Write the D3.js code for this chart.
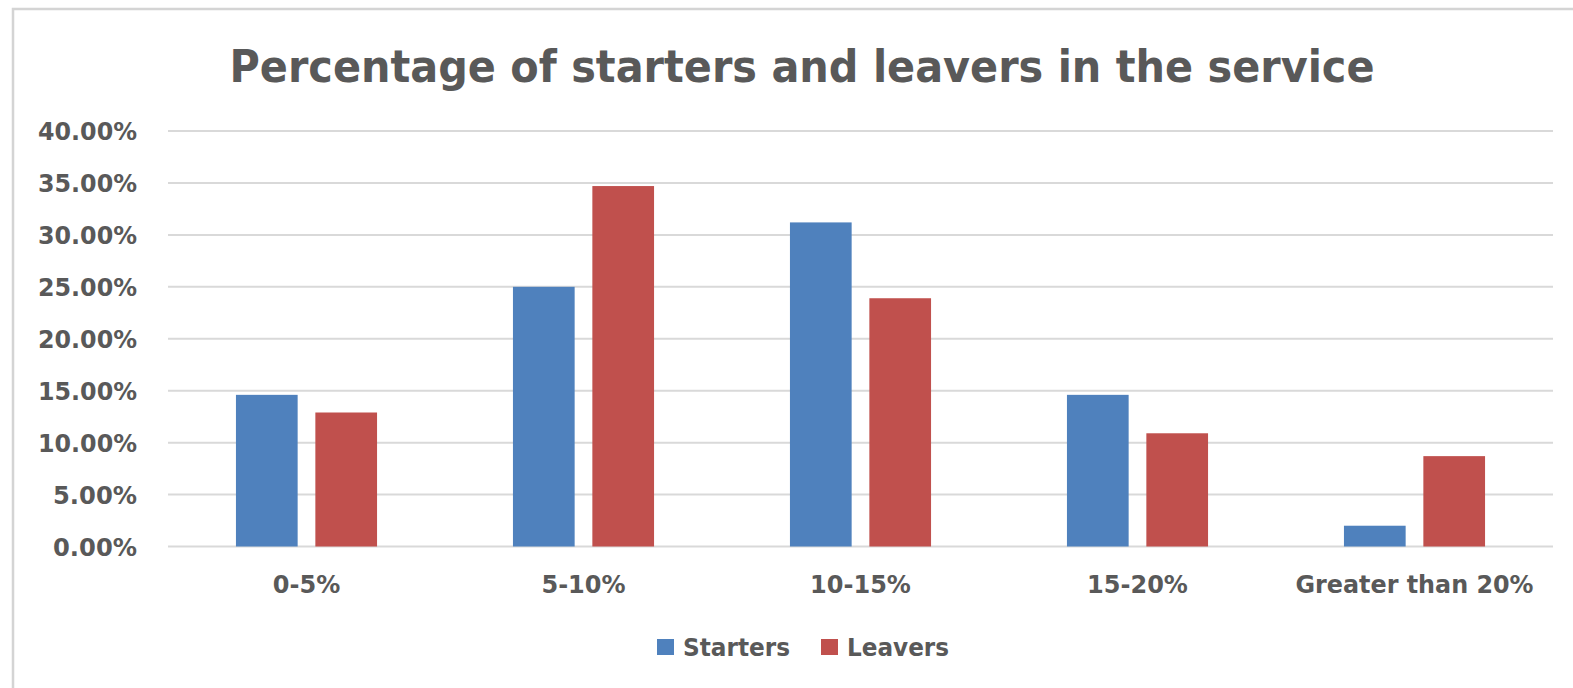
<!DOCTYPE html>
<html><head><meta charset="utf-8">
<script src="https://cdn.jsdelivr.net/npm/d3@7"></script>
<style>html,body{margin:0;padding:0;background:#fff;overflow:hidden}</style>
</head><body><svg id="c" width="1573" height="688"></svg>
<script>
const categories = ["0-5%", "5-10%", "10-15%", "15-20%", "Greater than 20%"];
const seriesNames = ["Starters", "Leavers"];
const starters = [14.6, 25.0, 31.2, 14.6, 2.0];
const leavers = [12.9, 34.7, 23.9, 10.9, 8.7];
const yTicks = [0, 5, 10, 15, 20, 25, 30, 35, 40];
const colors = ["#4F81BD", "#C0504D"];
const title = "Percentage of starters and leavers in the service";

const svg = d3.select("#c");
const font = "'DejaVu Sans', Verdana, sans-serif";
const textCol = "#595959";

// frame
svg.append("rect").attr("x", 13).attr("y", 9).attr("width", 1600).attr("height", 700)
  .attr("fill", "#fff").attr("stroke", "#d4d4d4").attr("stroke-width", 2.5);

const x0 = d3.scaleBand().domain(categories).range([168, 1553]).paddingInner(0).paddingOuter(0);
const y = d3.scaleLinear().domain([0, 40]).range([546.5, 131]);
const barW = 61.7, gap = 17.7;

// gridlines
svg.append("g").selectAll("line").data(yTicks).join("line")
  .attr("x1", 168).attr("x2", 1553)
  .attr("y1", d => y(d)).attr("y2", d => y(d))
  .attr("stroke", "#d9d9d9").attr("stroke-width", 2);

// y axis labels
const yAxis = d3.axisLeft(y).tickValues(yTicks).tickFormat(d => d.toFixed(2) + "%").tickSize(0).tickPadding(0);
const ya = svg.append("g").attr("transform", "translate(137,0)").call(yAxis);
ya.select(".domain").remove();
ya.selectAll("text").attr("font-family", font).attr("font-weight", "bold")
  .attr("font-size", 24).attr("fill", textCol).attr("dy", "0.36em")
  .attr("textLength", 99).attr("lengthAdjust", "spacingAndGlyphs");
ya.selectAll("text").filter(d => d < 10).attr("textLength", 84);

// bars
const data = categories.map((c, i) => ({ c, vals: [starters[i], leavers[i]] }));
const groups = svg.append("g").selectAll("g").data(data).join("g")
  .attr("transform", d => `translate(${x0(d.c) + x0.bandwidth() / 2},0)`);
groups.selectAll("rect").data(d => d.vals.map((v, k) => ({ v, k }))).join("rect")
  .attr("x", d => d.k === 0 ? -(gap / 2 + barW) : gap / 2)
  .attr("width", barW)
  .attr("y", d => y(d.v))
  .attr("height", d => y(0) - y(d.v))
  .attr("fill", d => colors[d.k]);

// x axis labels
const xAxis = d3.axisBottom(x0).tickSize(0).tickPadding(0);
const xa = svg.append("g").attr("transform", "translate(0,584)").call(xAxis);
xa.select(".domain").remove();
xa.selectAll("text").attr("font-family", font).attr("font-weight", "bold")
  .attr("font-size", 24).attr("fill", textCol).attr("dy", "0.36em");
xa.selectAll("text").filter(d => d === "Greater than 20%").attr("textLength", 238).attr("lengthAdjust", "spacingAndGlyphs");

// title
svg.append("text").attr("x", 802).attr("y", 82).attr("text-anchor", "middle")
  .attr("font-family", font).attr("font-weight", "bold").attr("font-size", 44)
  .attr("fill", textCol).attr("textLength", 1145).attr("lengthAdjust", "spacingAndGlyphs")
  .text(title);

// legend
const legendItems = [{ n: seriesNames[0], x: 657, tw: 107 }, { n: seriesNames[1], x: 821, tw: 102 }];
const lg = svg.append("g").selectAll("g").data(legendItems).join("g")
  .attr("transform", d => `translate(${d.x},639)`);
lg.append("rect").attr("width", 17).attr("height", 16).attr("fill", (d, i) => colors[i]);
lg.append("text").attr("x", 26).attr("y", 8).attr("dy", "0.36em")
  .attr("font-family", font).attr("font-weight", "bold").attr("font-size", 24)
  .attr("fill", textCol).attr("textLength", d => d.tw).attr("lengthAdjust", "spacingAndGlyphs")
  .text(d => d.n);
</script></body></html>
